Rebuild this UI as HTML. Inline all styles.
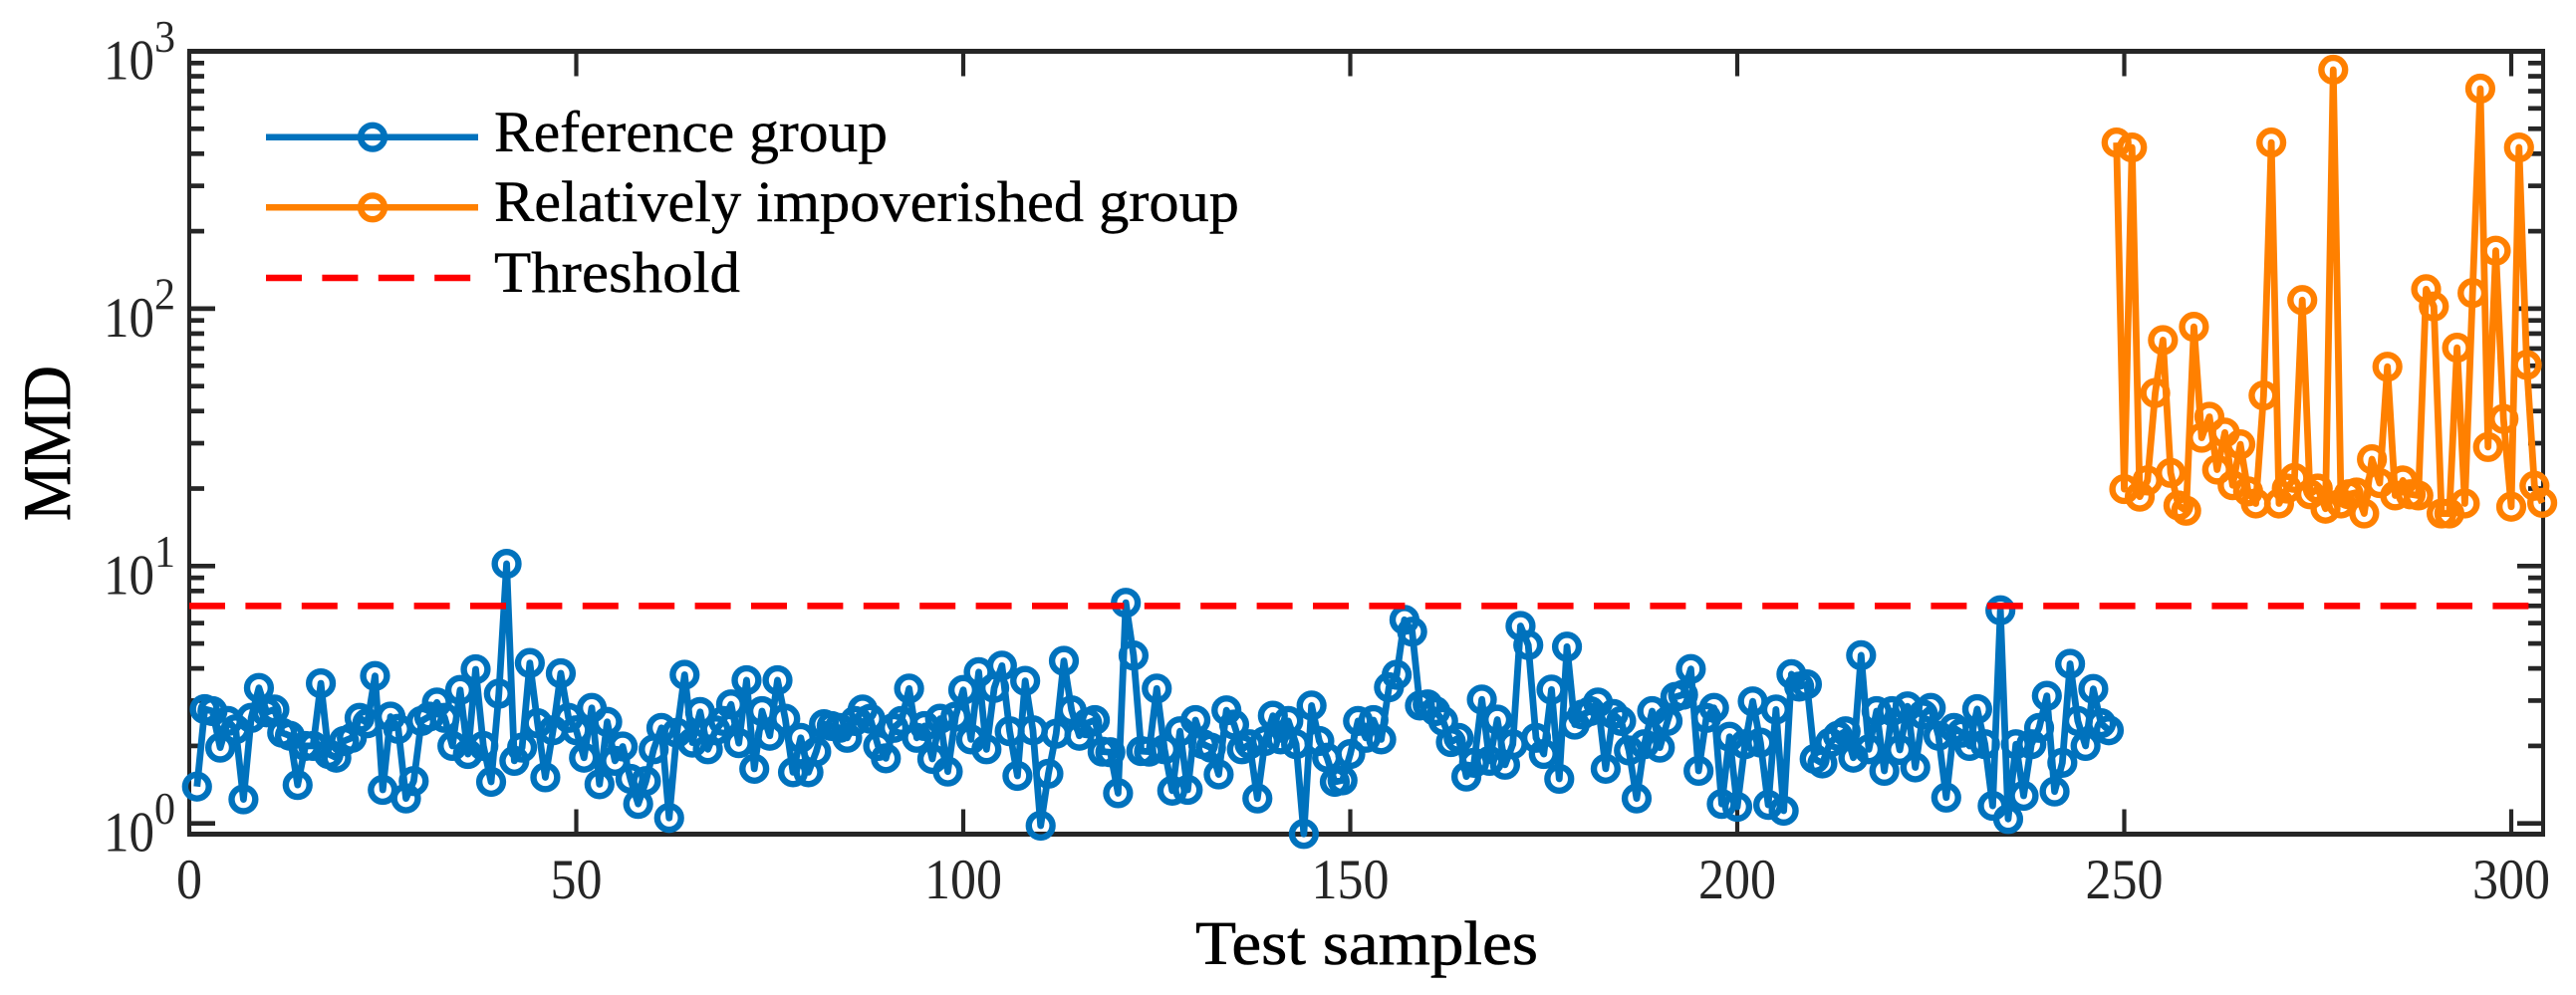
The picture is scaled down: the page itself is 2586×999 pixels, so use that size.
<!DOCTYPE html>
<html lang="en">
<head>
<meta charset="utf-8">
<title>MMD of test samples</title>
<style>
html,body{margin:0;padding:0;background:#fff;}
svg{display:block;}
text{font-family:"Liberation Serif","DejaVu Serif",serif;}
</style>
</head>
<body>
<svg id="chart" xmlns="http://www.w3.org/2000/svg" width="2586" height="999" viewBox="0 0 2586 999">
  <rect x="0" y="0" width="2586" height="999" fill="#ffffff"/>
  <g id="axes"></g>
  <g id="plot"></g>
  <text x="1200" y="968" font-size="62" fill="#000" stroke="#000" stroke-width="0.6" textLength="344" lengthAdjust="spacingAndGlyphs">Test samples</text>
  <text transform="translate(70,523) rotate(-90)" x="0" y="0" font-size="68" fill="#000" stroke="#000" stroke-width="0.8" textLength="156" lengthAdjust="spacingAndGlyphs">MMD</text>
  <g>
    <g>
      <line x1="267" x2="480" y1="137.7" y2="137.7" stroke="#0072BD" stroke-width="6.5"/>
      <circle cx="374" cy="137.7" r="11.9" fill="none" stroke="#0072BD" stroke-width="6.4"/>
      <text x="496" y="152" font-size="58" fill="#000" stroke="#000" stroke-width="0.4" textLength="395" lengthAdjust="spacingAndGlyphs">Reference group</text>
    </g>
    <g>
      <line x1="267" x2="480" y1="208.3" y2="208.3" stroke="#FF8000" stroke-width="6.5"/>
      <circle cx="374" cy="208.3" r="11.9" fill="none" stroke="#FF8000" stroke-width="6.4"/>
      <text x="496" y="222" font-size="58" fill="#000" stroke="#000" stroke-width="0.4" textLength="748" lengthAdjust="spacingAndGlyphs">Relatively impoverished group</text>
    </g>
    <g>
      <line x1="267" x2="473" y1="279" y2="279" stroke="#FF0000" stroke-width="6.5" stroke-dasharray="36 20.4"/>
      <text x="496" y="293" font-size="58" fill="#000" stroke="#000" stroke-width="0.4" textLength="247" lengthAdjust="spacingAndGlyphs">Threshold</text>
    </g>
  </g>
</svg>
<script>
const xTickValues = [0, 50, 100, 150, 200, 250, 300];
const yTickExponents = [0, 1, 2, 3];
const yMinorMultipliers = [2, 3, 4, 5, 6, 7, 8, 9];
const thresholdValue = 7;
const referenceStart = 1;
const referenceValues = [
  1.39,2.78,2.73,1.97,2.5,2.32,1.24,2.57,3.36,2.7,
  2.77,2.25,2.19,1.41,2.0,2.0,3.5,1.86,1.8,2.09,
  2.15,2.57,2.45,3.74,1.35,2.6,2.33,1.25,1.46,2.5,
  2.6,2.95,2.57,2.0,3.3,1.86,3.97,2.0,1.45,3.19,
  10.2,1.75,1.97,4.2,2.45,1.51,2.3,3.83,2.57,2.3,
  1.8,2.81,1.42,2.48,1.75,1.99,1.49,1.19,1.46,1.94,
  2.35,1.05,2.25,3.78,2.06,2.71,1.94,2.3,2.5,2.9,
  2.05,3.6,1.63,2.73,2.19,3.6,2.55,1.58,2.15,1.58,
  1.9,2.43,2.39,2.35,2.15,2.5,2.77,2.55,2.0,1.79,
  2.35,2.5,3.34,2.15,2.39,1.78,2.55,1.59,2.6,3.3,
  2.12,3.87,1.94,3.36,4.1,2.28,1.53,3.58,2.3,0.98,
  1.56,2.23,4.28,2.75,2.19,2.45,2.52,1.9,1.89,1.31,
  7.2,4.49,1.91,1.9,3.34,1.94,1.34,2.28,1.35,2.52,
  2.03,1.97,1.55,2.75,2.42,1.94,2.03,1.25,2.09,2.62,
  2.12,2.5,2.03,0.91,2.87,2.09,1.8,1.45,1.47,1.86,
  2.5,2.15,2.52,2.12,3.38,3.78,6.18,5.56,2.87,2.9,
  2.73,2.5,2.07,2.15,1.52,1.72,3.03,1.75,2.53,1.69,
  2.03,5.85,4.93,2.15,1.86,3.31,1.49,4.86,2.42,2.65,
  2.73,2.95,1.63,2.66,2.5,1.92,1.25,2.03,2.73,1.97,
  2.5,3.1,3.16,3.98,1.6,2.57,2.81,1.19,2.17,1.16,
  2.03,2.98,2.06,1.18,2.77,1.12,3.8,3.4,3.47,1.78,
  1.71,2.06,2.19,2.28,1.8,4.5,1.94,2.73,1.6,2.73,
  1.93,2.85,1.65,2.65,2.81,2.19,1.26,2.35,2.25,2.0,
  2.78,2.03,1.17,6.73,1.04,2.03,1.28,2.03,2.35,3.13,
  1.33,1.72,4.17,2.5,2.0,3.33,2.45,2.3
];
const impoverishedStart = 249;
const impoverishedValues = [
  442,19.9,423,18.6,21.5,47,75.5,23,17.2,16.4,85,
  31.5,38,23.7,33,20.6,29.7,19.5,17.5,46,442,
  17.5,20,22,108,19,20,16.7,848,17.5,19,
  19.3,16,26,21,59.5,18.8,21.5,19,18.8,119,
  102,16,16,70.5,17.5,115,716,29,168,37.3,
  17,423,60.5,20.5,17.6
];

const SVG_NS = 'http://www.w3.org/2000/svg';
const axes = document.getElementById('axes');
const plot = document.getElementById('plot');
const LEFT = 190, RIGHT = 2553, TOP = 51.5, BOTTOM = 837.5;
const AXIS_COLOR = '#262626';
function xScale(n) { return LEFT + n * 7.77; }
function yScale(v) { return TOP + (3 - Math.log10(v)) * 258.4; }
function make(tag, attrs) {
  const el = document.createElementNS(SVG_NS, tag);
  for (const k in attrs) el.setAttribute(k, attrs[k]);
  return el;
}

const frameSides = [
  ['axis-left', LEFT, TOP - 2.5, LEFT, BOTTOM + 2.5, 4],
  ['axis-right', RIGHT, TOP - 2.5, RIGHT, BOTTOM + 2.5, 4],
  ['axis-top', LEFT, TOP, RIGHT, TOP, 5],
  ['axis-bottom', LEFT, BOTTOM, RIGHT, BOTTOM, 5]
];
frameSides.forEach(function (s) {
  const l = make('line', {x1: s[1], y1: s[2], x2: s[3], y2: s[4], stroke: AXIS_COLOR, 'stroke-width': s[5]});
  
  
  axes.appendChild(l);
});

xTickValues.forEach(function (v) {
  const x = xScale(v);
  const bottomTick = make('line', {x1: x, y1: BOTTOM, x2: x, y2: BOTTOM - 25, stroke: AXIS_COLOR, 'stroke-width': 4.2});
  
  
  axes.appendChild(bottomTick);
  const topTick = make('line', {x1: x, y1: TOP, x2: x, y2: TOP + 25, stroke: AXIS_COLOR, 'stroke-width': 4.2});
  
  
  axes.appendChild(topTick);
  const label = make('text', {x: x, y: 902, 'text-anchor': 'middle', 'font-size': 57, fill: AXIS_COLOR,
    textLength: String(v).length * 26, lengthAdjust: 'spacingAndGlyphs'});
  
  
  label.textContent = String(v);
  axes.appendChild(label);
});

function yTickPair(y, len) {
  [[LEFT, LEFT + len], [RIGHT, RIGHT - len]].forEach(function (p) {
    const t = make('line', {x1: p[0], y1: y, x2: p[1], y2: y, stroke: AXIS_COLOR, 'stroke-width': 4.7});
    
    
    axes.appendChild(t);
  });
}
yTickExponents.forEach(function (e) {
  const y = yScale(Math.pow(10, e));
  if (e < 3) yTickPair(y, 26);
  if (e < 3) {
    yMinorMultipliers.forEach(function (m) { yTickPair(yScale(m * Math.pow(10, e)), 15); });
  }
  const base = make('text', {x: 104, y: y + 28, 'font-size': 57, fill: AXIS_COLOR, textLength: 51, lengthAdjust: 'spacingAndGlyphs'});
  
  
  base.textContent = '10';
  axes.appendChild(base);
  const sup = make('text', {x: 155, y: y + 0.5, 'font-size': 45, fill: AXIS_COLOR, textLength: 21, lengthAdjust: 'spacingAndGlyphs'});
  
  
  sup.textContent = String(e);
  axes.appendChild(sup);
});

function drawSeries(values, start, color, lineName, markerName) {
  const pts = values.map(function (v, i) { return xScale(start + i).toFixed(2) + ',' + yScale(v).toFixed(2); });
  const line = make('polyline', {points: pts.join(' '), fill: 'none', stroke: color, 'stroke-width': 6.8, 'stroke-linejoin': 'round'});
  
  
  plot.appendChild(line);
  values.forEach(function (v, i) {
    const c = make('circle', {cx: xScale(start + i), cy: yScale(v), r: 11.9, fill: 'none', stroke: color, 'stroke-width': 6.4});
    
    
    plot.appendChild(c);
  });
}
drawSeries(referenceValues, referenceStart, '#0072BD', 'reference-group-line', 'reference-group-marker');
drawSeries(impoverishedValues, impoverishedStart, '#FF8000', 'impoverished-group-line', 'impoverished-group-marker');

const thresholdY = yScale(thresholdValue);
const thresholdLine = make('line', {x1: LEFT, x2: RIGHT, y1: thresholdY, y2: thresholdY, stroke: '#FF0000', 'stroke-width': 6.5, 'stroke-dasharray': '36 20.4'});


plot.appendChild(thresholdLine);
</script>
</body>
</html>
